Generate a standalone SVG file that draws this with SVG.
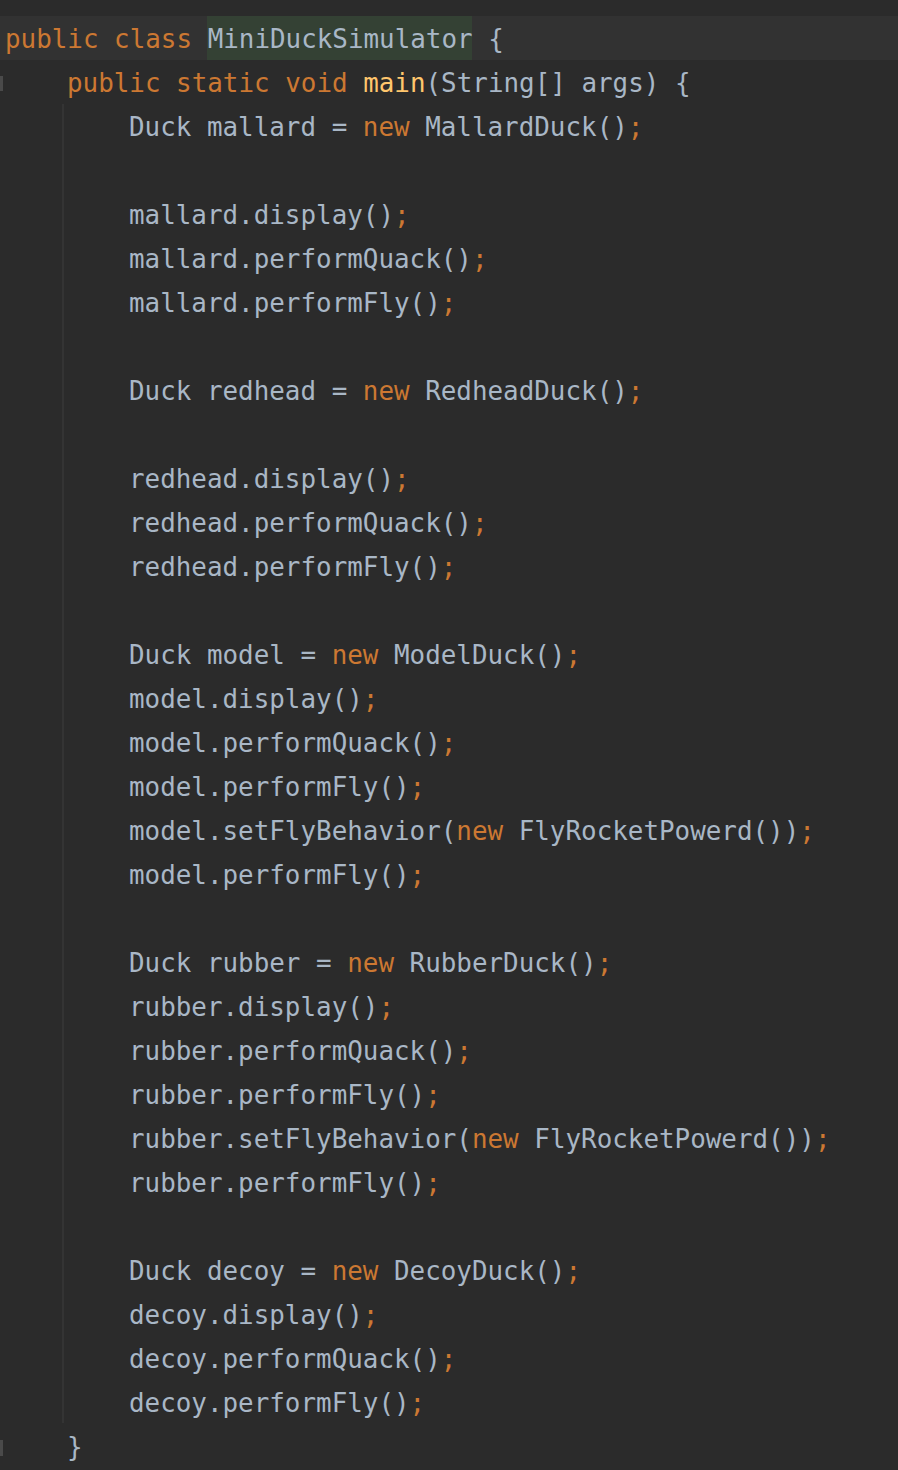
<svg xmlns="http://www.w3.org/2000/svg" width="898" height="1470" viewBox="0 0 898 1470">
<style>
text{font-family:"DejaVu Sans Mono","Liberation Mono",monospace;font-size:25.9px;fill:#a9b7c6;white-space:pre}
.k{fill:#cc7832}
.m{fill:#ffc66d}
</style>
<rect x="0" y="0" width="898" height="1470" fill="#2b2b2b"/>
<rect x="0" y="16" width="898" height="44" fill="#323232"/>
<rect x="207" y="16" width="265" height="44" fill="#344134"/>
<rect x="0" y="76" width="3" height="15" fill="#4a4a4a"/>
<rect x="0" y="1440" width="3" height="16" fill="#4a4a4a"/>
<line x1="63" y1="104" x2="63" y2="1423" stroke="#393939" stroke-width="1.5"/>
<g xml:space="preserve">
<text x="5" y="48"><tspan class="k">public class </tspan>MiniDuckSimulator {</text>
<text x="67" y="92"><tspan class="k">public static void </tspan><tspan class="m">main</tspan>(String[] args) {</text>
<text x="129" y="136">Duck mallard = <tspan class="k">new</tspan> MallardDuck()<tspan class="k">;</tspan></text>
<text x="129" y="224">mallard.display()<tspan class="k">;</tspan></text>
<text x="129" y="268">mallard.performQuack()<tspan class="k">;</tspan></text>
<text x="129" y="312">mallard.performFly()<tspan class="k">;</tspan></text>
<text x="129" y="400">Duck redhead = <tspan class="k">new</tspan> RedheadDuck()<tspan class="k">;</tspan></text>
<text x="129" y="488">redhead.display()<tspan class="k">;</tspan></text>
<text x="129" y="532">redhead.performQuack()<tspan class="k">;</tspan></text>
<text x="129" y="576">redhead.performFly()<tspan class="k">;</tspan></text>
<text x="129" y="664">Duck model = <tspan class="k">new</tspan> ModelDuck()<tspan class="k">;</tspan></text>
<text x="129" y="708">model.display()<tspan class="k">;</tspan></text>
<text x="129" y="752">model.performQuack()<tspan class="k">;</tspan></text>
<text x="129" y="796">model.performFly()<tspan class="k">;</tspan></text>
<text x="129" y="840">model.setFlyBehavior(<tspan class="k">new</tspan> FlyRocketPowerd())<tspan class="k">;</tspan></text>
<text x="129" y="884">model.performFly()<tspan class="k">;</tspan></text>
<text x="129" y="972">Duck rubber = <tspan class="k">new</tspan> RubberDuck()<tspan class="k">;</tspan></text>
<text x="129" y="1016">rubber.display()<tspan class="k">;</tspan></text>
<text x="129" y="1060">rubber.performQuack()<tspan class="k">;</tspan></text>
<text x="129" y="1104">rubber.performFly()<tspan class="k">;</tspan></text>
<text x="129" y="1148">rubber.setFlyBehavior(<tspan class="k">new</tspan> FlyRocketPowerd())<tspan class="k">;</tspan></text>
<text x="129" y="1192">rubber.performFly()<tspan class="k">;</tspan></text>
<text x="129" y="1280">Duck decoy = <tspan class="k">new</tspan> DecoyDuck()<tspan class="k">;</tspan></text>
<text x="129" y="1324">decoy.display()<tspan class="k">;</tspan></text>
<text x="129" y="1368">decoy.performQuack()<tspan class="k">;</tspan></text>
<text x="129" y="1412">decoy.performFly()<tspan class="k">;</tspan></text>
<text x="67" y="1456">}</text>
</g>
</svg>
